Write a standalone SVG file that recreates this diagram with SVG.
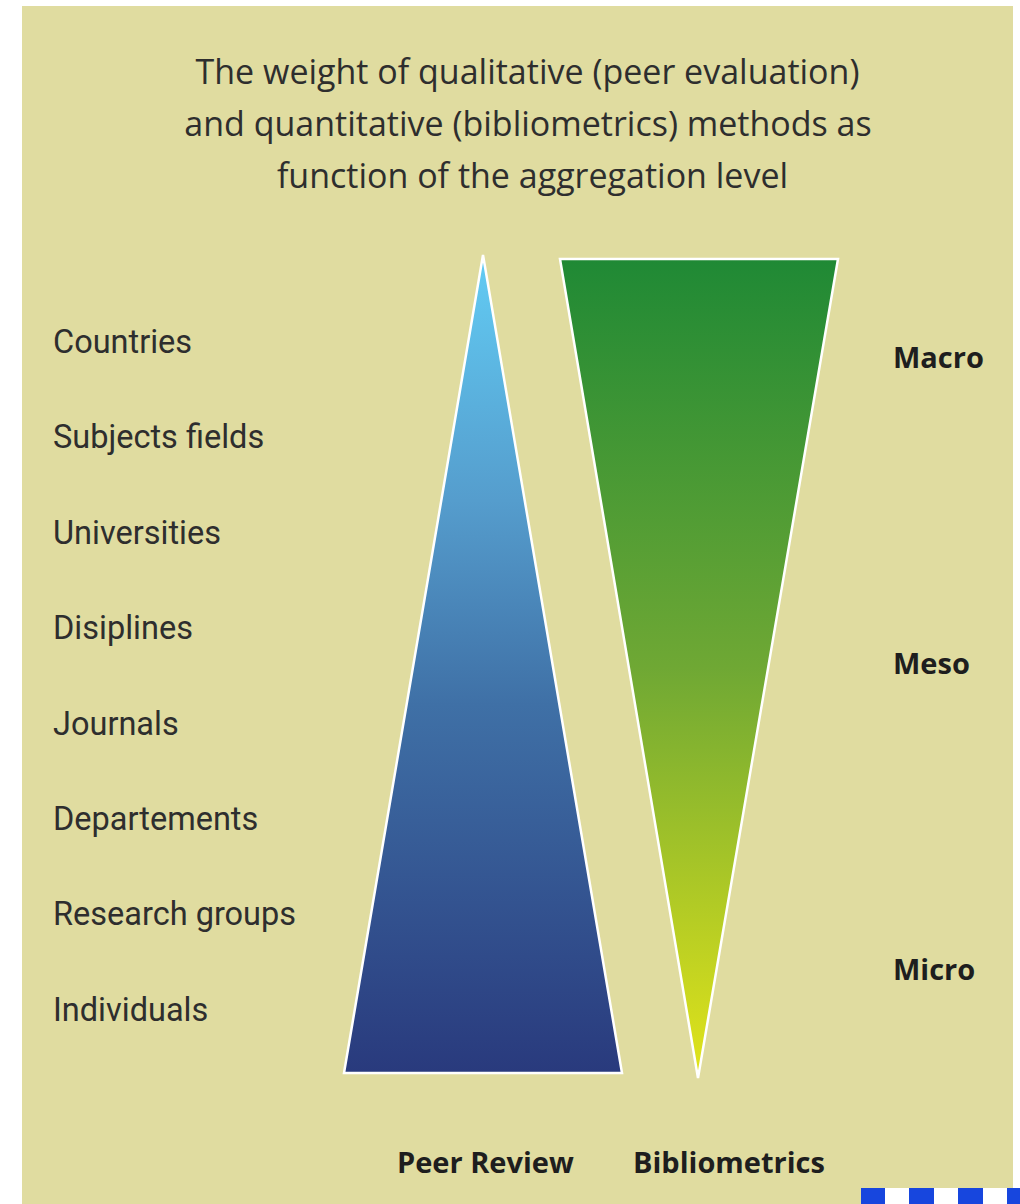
<svg xmlns="http://www.w3.org/2000/svg" width="1020" height="1204" viewBox="0 0 1020 1204">
<defs>
<linearGradient id="gBlue" x1="0" y1="255" x2="0" y2="1073" gradientUnits="userSpaceOnUse">
<stop offset="0" stop-color="#62ccf4"/>
<stop offset="0.3" stop-color="#559dcd"/>
<stop offset="0.55" stop-color="#3f70a6"/>
<stop offset="1" stop-color="#293a7d"/>
</linearGradient>
<linearGradient id="gGreen" x1="0" y1="258" x2="0" y2="1078" gradientUnits="userSpaceOnUse">
<stop offset="0" stop-color="#1f8935"/>
<stop offset="0.5" stop-color="#6fa834"/>
<stop offset="1" stop-color="#e2e41a"/>
</linearGradient>
<style>
.title{font-family:"Open Sans","Noto Sans",sans-serif;font-size:34px;fill:#2e2e2e;text-anchor:middle}
.lvl{font-family:Roboto,"Noto Sans",sans-serif;font-size:32.5px;fill:#2e2e2e}
.bold{font-family:"Open Sans","Noto Sans",sans-serif;font-size:29px;font-weight:700;fill:#1e1e1e}
.tri{stroke:#ffffff;stroke-width:2.5;stroke-linejoin:miter}
</style>
</defs>
<rect x="22" y="6" width="991" height="1198" fill="#e0dca0"/>
<rect x="861" y="1188" width="159" height="16" fill="#ffffff"/>
<g fill="#1746de">
<rect x="861" y="1188" width="24" height="16"/>
<rect x="909" y="1188" width="25" height="16"/>
<rect x="958" y="1188" width="25" height="16"/>
<rect x="1007" y="1188" width="13" height="16"/>
</g>
<g id="title">
<text class="title" x="527.5" y="84">The weight of qualitative (peer evaluation)</text>
<text class="title" x="528" y="136">and quantitative (bibliometrics) methods as</text>
<text class="title" x="532.5" y="188">function of the aggregation level</text>
</g>
<g id="levels">
<text class="lvl" x="53" y="353">Countries</text>
<text class="lvl" x="53" y="448">Subjects fields</text>
<text class="lvl" x="53" y="544">Universities</text>
<text class="lvl" x="53" y="639">Disiplines</text>
<text class="lvl" x="53" y="735">Journals</text>
<text class="lvl" x="53" y="830">Departements</text>
<text class="lvl" x="53" y="925">Research groups</text>
<text class="lvl" x="53" y="1021">Individuals</text>
</g>
<g id="peer-review">
<polygon class="tri" points="483,255 622,1073 344,1073" fill="url(#gBlue)"/>
<text class="bold" x="397" y="1173">Peer Review</text>
</g>
<g id="bibliometrics">
<polygon class="tri" points="560,259 838,259 698,1078" fill="url(#gGreen)"/>
<text class="bold" x="633" y="1173">Bibliometrics</text>
</g>
<g id="scale">
<text class="bold" x="893" y="368">Macro</text>
<text class="bold" x="893" y="674">Meso</text>
<text class="bold" x="893" y="980">Micro</text>
</g>
<g id="connectors"/>
</svg>
